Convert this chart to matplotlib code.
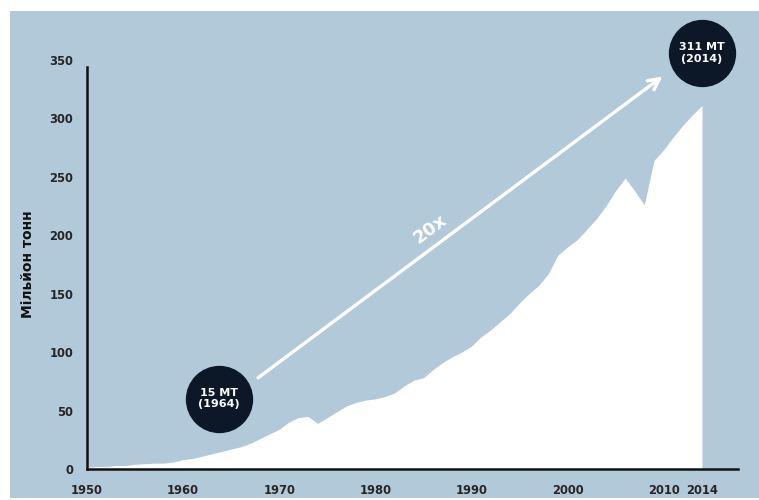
import matplotlib
matplotlib.use("Agg")
import matplotlib.pyplot as plt
from matplotlib.patches import Rectangle
import numpy as np

# Global plastic production, million tonnes
years = list(range(1950, 2015))
production = [
    1.5, 2, 2, 3, 3, 4, 4.5, 5, 5, 6,          # 1950-1959
    8, 9, 11, 13, 15, 17, 19, 22, 26, 30,      # 1960-1969
    34, 40, 44, 45, 39, 44, 49, 54, 57, 59,    # 1970-1979
    60, 62, 65, 71, 76, 78, 85, 91, 96, 100,   # 1980-1989
    105, 113, 119, 126, 133, 142, 150, 157, 167, 183,  # 1990-1999
    190, 196, 205, 214, 225, 238, 249, 238, 226, 264,  # 2000-2009
    273, 284, 294, 303, 311,                   # 2010-2014
]

x_ticks = [1950, 1960, 1970, 1980, 1990, 2000, 2010, 2014]
y_ticks = [0, 50, 100, 150, 200, 250, 300, 350]

callouts = [(1964, 15, "15 MT\n(1964)"), (2014, 311, "311 MT\n(2014)")]
growth_label = "20x"
y_label = "Мільйон тонн"

bg = "#b2c9d9"
navy = "#0c1828"
ink = "#262626"

fig = plt.figure(figsize=(7.59, 5.0), dpi=100)
fig.patch.set_facecolor("white")

# Panel background behind the chart
back = fig.add_axes([0, 0, 1, 1], zorder=-5)
back.set_axis_off()
back.set_xlim(0, 1)
back.set_ylim(0, 1)
back.add_patch(Rectangle((10 / 759, 2 / 500), 749 / 759, 487 / 500,
                         facecolor=bg, edgecolor="none"))

ax = fig.add_axes([87 / 759, 31 / 500, (738 - 87) / 759, (469 - 60) / 500], zorder=1)
ax.set_facecolor("none")
ax.set_xlim(1950, 2017.75)
ax.set_ylim(0, 350)

ax.fill_between(years, production, 0, color="white", lw=0, zorder=1)

for s in ("top", "right"):
    ax.spines[s].set_visible(False)
for s in ("left", "bottom"):
    ax.spines[s].set_color("#111111")
    ax.spines[s].set_linewidth(1.8)
    ax.spines[s].set_zorder(3)
ax.spines["left"].set_bounds(0, 344)

ax.set_xticks(x_ticks)
ax.set_yticks(y_ticks)
ax.tick_params(length=0, labelsize=8.3, labelcolor=ink)
ax.tick_params(axis="x", pad=11)
ax.tick_params(axis="y", pad=10)
for lab in ax.get_xticklabels() + ax.get_yticklabels():
    lab.set_fontweight("bold")

ax.set_ylabel(y_label, fontsize=10, fontweight="bold", color="#111111", labelpad=10)

# Callout bubbles sit a fixed distance above the point they describe
lift = 45
for yr, val, txt in callouts:
    cx = yr - 0.3 if yr == 1964 else yr
    ax.scatter([cx], [val + lift], s=2350, color=navy, zorder=5,
               clip_on=False, linewidths=0)
    ax.text(cx, val + lift, txt, color="white", fontsize=8,
            fontweight="bold", ha="center", va="center",
            linespacing=1.15, zorder=6, clip_on=False)

# Growth arrow between the two callouts
ax.annotate("", xy=(2009.9, 336), xytext=(1967.8, 78),
            arrowprops=dict(arrowstyle="->", color="white", lw=2.4,
                            mutation_scale=20, shrinkA=0, shrinkB=0),
            zorder=4, annotation_clip=False)

p0 = ax.transData.transform((1967.8, 78))
p1 = ax.transData.transform((2009.9, 336))
ang = np.degrees(np.arctan2(p1[1] - p0[1], p1[0] - p0[0]))
ax.text(1985.7, 205, growth_label, color="white", fontsize=13,
        fontweight="bold", rotation=ang, rotation_mode="anchor",
        ha="center", va="center", zorder=4)

fig.savefig("out.png", dpi=100, facecolor=fig.get_facecolor())
